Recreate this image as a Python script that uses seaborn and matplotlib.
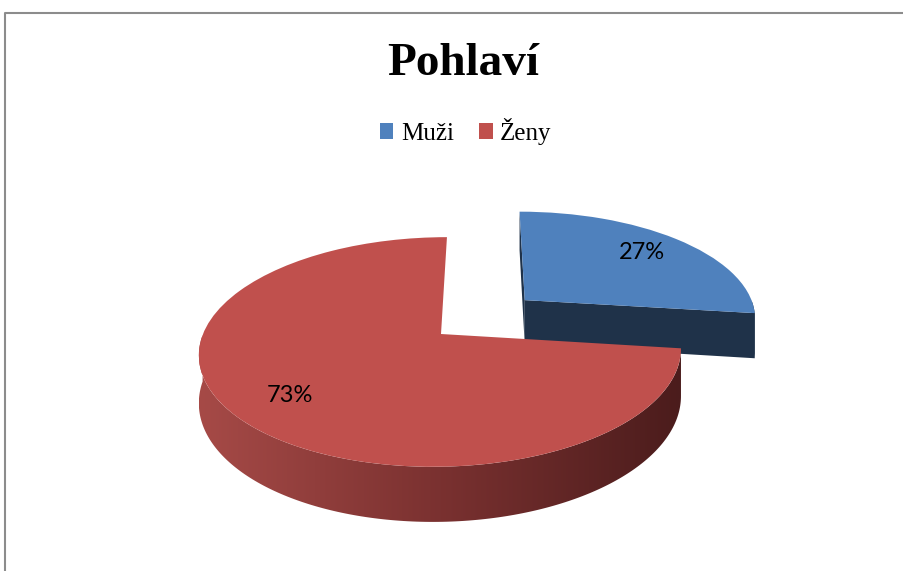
import numpy as np
import matplotlib
matplotlib.use("Agg")
import matplotlib.pyplot as plt
import matplotlib.transforms as mtransforms
from matplotlib.colors import LinearSegmentedColormap
from matplotlib.patches import Polygon
from matplotlib.lines import Line2D
import seaborn as sns

# data
labels = ["Muži", "Ženy"]
values = [27, 73]
explode = [0.48, 0.0]
top_colors = ["#4f81bd", "#c0504d"]
side_colors = ["#1f3249", "#4b1c1c"]

sns.set_theme(style="white")
plt.rcParams["font.family"] = ["Liberation Serif", "DejaVu Sans"]
plt.rcParams["text.color"] = "black"

# tilted-disc projection: pie units -> pixel space of the axes
CX, CY, XC, A, B, K, DEPTH = 441, 334, 485, 238, 112, 0.1565, 46.5


class Tilt(mtransforms.Transform):
    input_dims = output_dims = 2

    def __init__(self, z=0.0):
        super().__init__()
        self.z = z

    def transform_non_affine(self, pts):
        pts = np.asarray(pts, float)
        u, v = pts[:, 0], pts[:, 1]
        w = 1 + K * v
        return np.column_stack([XC + (CX - XC + A * u) / w, CY - B * v / w + self.z / w])


fig = plt.figure(figsize=(9.04, 5.71), dpi=100)
ax = fig.add_axes([0, 0, 1, 1])

wedges, _, autotexts = ax.pie(values, colors=top_colors, explode=explode, startangle=90,
                              counterclock=False, radius=1, autopct="%1.0f%%",
                              pctdistance=0.76, labels=labels, labeldistance=None,
                              wedgeprops=dict(linewidth=0))
ax.set_aspect("auto")
ax.axis("off")

top = Tilt(0.0)
bot = Tilt(DEPTH)
grad = LinearSegmentedColormap.from_list("side", ["#a64a47", "#7a3130", "#4b1c1c"])

for i, wdg in enumerate(wedges):
    wdg.set_transform(top + ax.transData)
    wdg.set_zorder(5)
    c = np.array(wdg.center)
    t = np.radians(np.linspace(wdg.theta1, wdg.theta2, 300))
    rim = c + np.column_stack([np.cos(t), np.sin(t)]) * wdg.r
    # radial faces (only the pulled-out slice shows them)
    if explode[i] > 0:
        for e in (rim[0], rim[-1]):
            quad = np.vstack([top.transform(np.array([c, e])), bot.transform(np.array([e, c]))])
            ax.add_patch(Polygon(quad, closed=True, fc=side_colors[i], ec="none", zorder=2))
    # front rim band
    front = rim[np.sin(t) <= 0]
    if len(front) > 1:
        band = np.vstack([top.transform(front), bot.transform(front[::-1])])
        poly = Polygon(band, closed=True, fc=side_colors[i], ec="none", zorder=3)
        ax.add_patch(poly)
        if i == 1:
            poly.set_facecolor("none")
            x0, x1 = band[:, 0].min(), band[:, 0].max()
            y0, y1 = band[:, 1].min(), band[:, 1].max()
            im = ax.imshow(np.linspace(0, 1, 256).reshape(1, -1), cmap=grad, aspect="auto",
                           extent=(x0, x1, y1, y0), zorder=3, interpolation="bilinear")
            im.set_clip_path(poly)
ax.set_xlim(0, 904)
ax.set_ylim(571, 0)

for txt in autotexts:
    txt.set_transform(top + ax.transData)
    txt.set_family(["Lato", "DejaVu Sans"])
    txt.set_fontsize(17)
    txt.set_color("black")
    txt.set_zorder(6)

fig.text(0.512, 0.888, "Pohlaví", ha="center", va="center", fontsize=34, fontweight="bold",
         color="black", family=["Liberation Serif", "DejaVu Serif"])
leg = fig.legend(wedges, labels, loc="center", bbox_to_anchor=(0.515, 0.77), ncol=2,
                 frameon=False, prop=dict(family=["Liberation Serif", "DejaVu Serif"], size=18),
                 handlelength=0.55, handleheight=0.55, handletextpad=0.3, columnspacing=1.0)
for t in leg.get_texts():
    t.set_color("black")

fig.add_artist(Line2D([5 / 904, 5 / 904, 1], [0, 1 - 13 / 571, 1 - 13 / 571],
                      transform=fig.transFigure, color="#8c8c8c", lw=1.5))

fig.savefig("out.png", dpi=100)
